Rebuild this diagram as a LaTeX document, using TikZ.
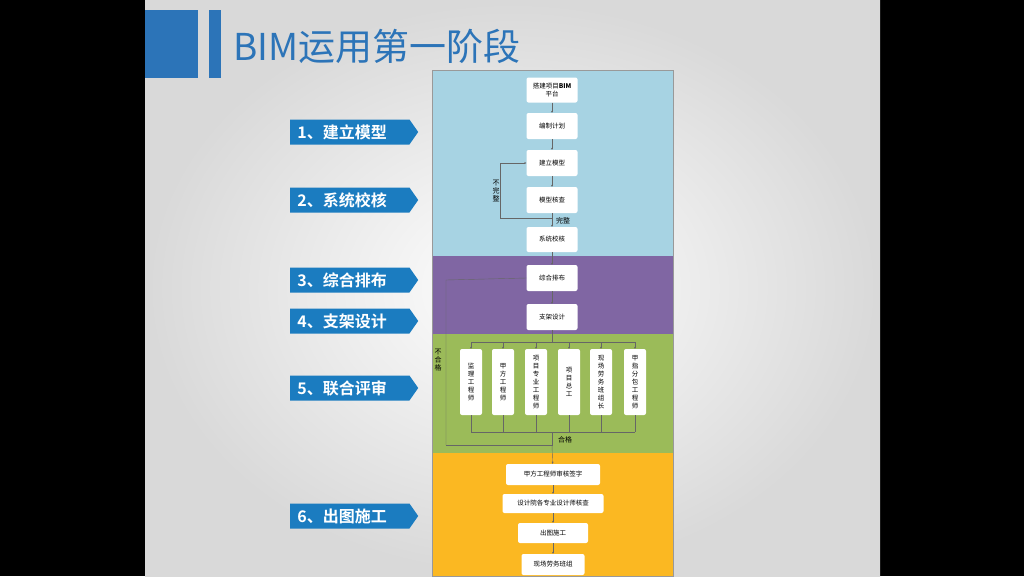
\documentclass[tikz,border=0pt]{standalone}
\usepackage{fontspec}
\newfontfamily\cjk{Noto Sans CJK SC}
\newfontfamily\cjkb{Noto Sans CJK SC Bold}
\usetikzlibrary{shapes.symbols,arrows.meta}
\definecolor{tblue}{HTML}{2C74B8}
\definecolor{lblue}{HTML}{1B7CC0}
\definecolor{bandA}{HTML}{A7D3E3}
\definecolor{bandB}{HTML}{8066A3}
\definecolor{bandC}{HTML}{9BBB59}
\definecolor{bandD}{HTML}{FBB822}
\tikzset{
 box/.style={draw=none,fill=white,rounded corners=2pt,font=\cjk\fontsize{6.5}{8}\selectfont,align=center,inner sep=1pt},
 vbox/.style={box,minimum width=22pt,minimum height=66pt},
 tag/.style={signal,signal to=east,signal pointer angle=110,fill=lblue,text=white,font=\cjkb\fontsize{16}{18}\selectfont,minimum width=128pt,minimum height=25pt,inner sep=2pt,anchor=west,text width=105pt},
 ln/.style={draw=black!60,line width=0.4pt},
 ar/.style={ln,-{Stealth[length=2pt,width=2pt]}},
 lab/.style={font=\cjk\fontsize{7}{8}\selectfont,inner sep=0pt,align=center}
}
\begin{document}
\begin{tikzpicture}[x=1pt,y=-1pt]
\useasboundingbox (0,0) rectangle (1024,576);
\fill[black] (0,0) rectangle (1024,576);
\shade[inner color=white,outer color=black!15] (145,0) rectangle (880,576);
% title
\fill[tblue] (145,10) rectangle (198,78);
\fill[tblue] (209,10) rectangle (221,78);
\node[anchor=west,text=tblue,font=\cjk\fontsize{37}{40}\selectfont,inner sep=0pt] (title) at (233,46) {BIM运用第一阶段};
% bands
\fill[bandA] (432,70) rectangle (673,256);
\fill[bandB] (432,256) rectangle (673,334);
\fill[bandC] (432,334) rectangle (673,453);
\fill[bandD] (432,453) rectangle (673,576);
\draw[black!40,line width=0.6pt] (432,70) rectangle (673,576);
% stage 1
\node[box,minimum width=51pt,minimum height=25pt] (b1) at (552,90) {搭建项目\textbf{BIM}\\平台};
\node[box,minimum width=51pt,minimum height=26pt] (b2) at (552,126) {编制计划};
\node[box,minimum width=51pt,minimum height=26pt] (b3) at (552,163) {建立模型};
\node[box,minimum width=51pt,minimum height=26pt] (b4) at (552,200) {模型核查};
\node[box,minimum width=51pt,minimum height=25pt] (b5) at (552,239.5) {系统校核};
\node[box,minimum width=51pt,minimum height=26pt] (b6) at (552,278) {综合排布};
\node[box,minimum width=51pt,minimum height=26pt] (b7) at (552,317) {支架设计};
\draw[ar] (b1) -- (b2); \draw[ar] (b2) -- (b3); \draw[ar] (b3) -- (b4);
\draw[ar] (b4) -- (b5); \draw[ar] (b5) -- (b6); \draw[ar] (b6) -- (b7);
\coordinate (l1) at (500,218); \coordinate (l2) at (500,163);
\draw[ar] (552,218) -- (l1) -- (l2) -- (b3.west);
\node[lab] (nw) at (496,191) {不\\完\\整};
\node[lab] (wz) at (563,221) {完整};
% reviewers
\node[vbox] (r1) at (471,382) {监\\理\\工\\程\\师};
\node[vbox] (r2) at (503,382) {甲\\方\\工\\程\\师};
\node[vbox] (r3) at (536,382) {项\\目\\专\\业\\工\\程\\师};
\node[vbox] (r4) at (569,382) {项\\目\\总\\工};
\node[vbox] (r5) at (601,382) {现\\场\\劳\\务\\班\\组\\长};
\node[vbox] (r6) at (635,382) {甲\\指\\分\\包\\工\\程\\师};
\coordinate (top) at (552,342);
\draw[ln] (b7.south) -- (top);
\draw[ln] (r1.north |- top) -- (r6.north |- top);
\foreach \r in {r1,r2,r3,r4,r5,r6}{
 \draw[ar] (\r.north |- top) -- (\r.north);
 \draw[ln] (\r.south) -- (\r.south |- 0,432);}
\draw[ln] (471,432) -- (635,432);
\coordinate (bot) at (552,445);
\draw[ln] (446,445) -- (446,280) -- (b6.west);
\draw[ln] (552,432) -- (bot) -- (446,445);
\node[lab] (bhg) at (438,360) {不\\合\\格};
\node[lab] (hg) at (565,440) {合格};
% stage 6
\node[box,minimum width=94pt,minimum height=21pt] (c1) at (553,474.5) {甲方工程师审核签字};
\node[box,minimum width=101pt,minimum height=19pt] (c2) at (553,503.5) {设计院各专业设计师核查};
\node[box,minimum width=70pt,minimum height=20pt] (c3) at (553,533) {出图施工};
\node[box,minimum width=63pt,minimum height=21pt] (c4) at (553,564.5) {现场劳务班组};
\draw[ar] (bot) -- (c1);
\draw[ar] (c1) -- (c2); \draw[ar] (c2) -- (c3); \draw[ar] (c3) -- (c4);
% tags
\node[tag] (t1) at (290,132) {1、建立模型};
\node[tag] (t2) at (290,200) {2、系统校核};
\node[tag] (t3) at (290,280) {3、综合排布};
\node[tag] (t4) at (290,321) {4、支架设计};
\node[tag] (t5) at (290,388) {5、联合评审};
\node[tag] (t6) at (290,516) {6、出图施工};
\end{tikzpicture}
\end{document}
